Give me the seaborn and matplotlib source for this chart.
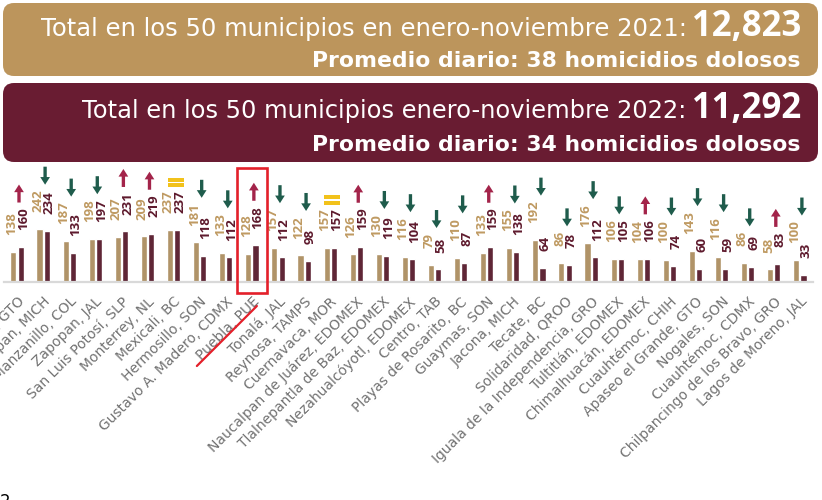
import numpy as np
import pandas as pd
import seaborn as sb
import matplotlib.pyplot as plt
from matplotlib.patches import FancyBboxPatch, FancyArrowPatch, Rectangle
from matplotlib.lines import Line2D

# datos: homicidios dolosos ene-nov 2021 vs 2022
municipios = ['León, GTO', 'Uruapan, MICH', 'Manzanillo, COL', 'Zapopan, JAL', 'San Luis Potosí, SLP',
              'Monterrey, NL', 'Mexicali, BC', 'Hermosillo, SON', 'Gustavo A. Madero, CDMX', 'Puebla, PUE',
              'Tonalá, JAL', 'Reynosa, TAMPS', 'Cuernavaca, MOR', 'Naucalpan de Juárez, EDOMEX',
              'Tlalnepantla de Baz, EDOMEX', 'Nezahualcóyotl, EDOMEX', 'Centro, TAB', 'Playas de Rosarito, BC',
              'Guaymas, SON', 'Jacona, MICH', 'Tecate, BC', 'Solidaridad, QROO', 'Iguala de la Independencia, GRO',
              'Tultitlán, EDOMEX', 'Chimalhuacán, EDOMEX', 'Cuauhtémoc, CHIH', 'Apaseo el Grande, GTO',
              'Nogales, SON', 'Cuauhtémoc, CDMX', 'Chilpancingo de los Bravo, GRO', 'Lagos de Moreno, JAL']
v2021 = [138, 242, 187, 198, 207, 209, 237, 181, 133, 128, 157, 122, 157, 126, 130, 116, 79, 110, 133, 155,
         192, 86, 176, 106, 104, 100, 143, 116, 86, 58, 100]
v2022 = [160, 234, 133, 197, 231, 219, 237, 118, 112, 168, 112, 98, 157, 159, 119, 104, 58, 87, 159, 138,
         64, 78, 112, 105, 106, 74, 60, 59, 69, 83, 33]
anios = ['2021', '2022']
resaltado = 'Puebla, PUE'

GOLD, MAROON = '#BC955C', '#691C32'
LBL_GOLD, LBL_MAROON = '#BF9A62', '#5E1A2D'
GREEN, RED, YELLOW = '#1F5C4C', '#A3244A', '#F2C21B'

df = pd.DataFrame({'municipio': municipios * 2,
                   'valor': v2021 + v2022,
                   'anio': [anios[0]] * len(v2021) + [anios[1]] * len(v2022)})

sb.set_style('white')
plt.rcParams['font.family'] = ['DejaVu Sans']

fig = plt.figure(figsize=(8.22, 5), dpi=100)
bg = fig.add_axes([0, 0, 1, 1])
bg.set_xlim(0, 822); bg.set_ylim(500, 0); bg.axis('off')

# encabezados
bg.add_patch(FancyBboxPatch((3, 3), 815, 73, boxstyle='round,pad=0,rounding_size=11', fc=GOLD, ec='none'))
bg.add_patch(FancyBboxPatch((3, 83), 815, 79, boxstyle='round,pad=0,rounding_size=11', fc=MAROON, ec='none'))
heads = [('Total en los 50 municipios en enero-noviembre 2021:', '12,823', 36, 40,
          'Promedio diario: 38 homicidios dolosos', 67),
         ('Total en los 50 municipios enero-noviembre 2022:', '11,292', 118, 80,
          'Promedio diario: 34 homicidios dolosos', 151)]
fig.canvas.draw()
r = fig.canvas.get_renderer()


def ajusta(t, ancho):
    w = t.get_window_extent(r).width
    t.set_fontsize(t.get_fontsize() * ancho / w)
    return t


for txt, num, y1, x1, sub, y2 in heads:
    t = bg.text(801, y1, num, ha='right', va='baseline', color='white', fontsize=25,
                fontweight='bold', family='Open Sans')
    wn = t.get_window_extent(r).width
    t1 = bg.text(796 - wn, y1, txt, ha='right', va='baseline', color='white', fontsize=16)
    ajusta(t1, 796 - wn - x1)
    ajusta(bg.text(800, y2, sub, ha='right', va='baseline', color='white', fontsize=17,
                   fontweight='bold'), 486)

# barras
ax = fig.add_axes([3.95 / 822, 218 / 500, 809 / 822, 117 / 500])
ax.patch.set_alpha(0)
sb.barplot(data=df, x='municipio', y='valor', hue='anio', palette=[GOLD, MAROON],
           width=0.55, gap=0.15, legend=False, ax=ax)
ax.set_ylim(0, 534)
ax.set_xlim(-0.5, len(municipios) - 0.5)
ax.set_xlabel(''); ax.set_ylabel('')
ax.set_yticks([])
for s in ['left', 'right', 'top']:
    ax.spines[s].set_visible(False)
ax.spines['bottom'].set_color('#d9d9d9'); ax.spines['bottom'].set_linewidth(1.6)
ax.tick_params(axis='x', length=0, pad=9)
plt.setp(ax.get_xticklabels(), rotation=45, ha='right', rotation_mode='anchor',
         fontsize=10, color='#727272')

# etiquetas de valor
etq = []
for cont, col, dx in [(ax.containers[0], LBL_GOLD, -1.3), (ax.containers[1], LBL_MAROON, 1.9)]:
    fila = []
    for bar in cont:
        v = bar.get_height()
        a = ax.annotate(f'{v:.0f}', xy=(bar.get_x() + bar.get_width() / 2, v), xytext=(dx, 12),
                        textcoords='offset points', rotation=90, ha='center', va='bottom',
                        fontsize=9.5, fontweight='bold', color=col, family='Open Sans',
                        annotation_clip=False)
        fila.append(a)
    etq.append(fila)

# flechas de tendencia
fig.canvas.draw()
r = fig.canvas.get_renderer()
for i, (a, b) in enumerate(zip(v2021, v2022)):
    cx = ax.transData.transform((i, 0))[0] + 2
    top = 500 - max(etq[0][i].get_window_extent(r).y1, etq[1][i].get_window_extent(r).y1)
    if a == b:
        for y0 in [top - 13, top - 7.5]:
            fig.add_artist(Rectangle((cx - 8, y0), 16, 4, fc=YELLOW, ec='none', transform=bg.transData))
        continue
    y_lo, y_hi = top - 5, top - 23
    if b > a:
        p0, p1, c = (cx, y_lo), (cx, y_hi), RED
    else:
        p0, p1, c = (cx, y_hi), (cx, y_lo), GREEN
    fig.add_artist(FancyArrowPatch(p0, p1, arrowstyle='simple,head_length=0.55,head_width=0.7,tail_width=0.24',
                                   mutation_scale=10, fc=c, ec='none', lw=0, shrinkA=0, shrinkB=0,
                                   transform=bg.transData))

# recuadro y subrayado de Puebla
k = municipios.index(resaltado)
px = ax.transData.transform((k, 0))
cx, base = px[0], 500 - px[1]
fig.add_artist(Rectangle((cx - 15, 168), 30, base + 11 - 168, fill=False, ec='#E3202A', lw=1.9,
                         transform=bg.transData))
fig.add_artist(Line2D([cx - 55, cx + 5], [base + 84, base + 24], color='#E3202A', lw=1.6,
                      transform=bg.transData))

bg.text(0, 493, '2', ha='left', va='top', fontsize=12, color='black')

fig.savefig('out.png', dpi=100)
